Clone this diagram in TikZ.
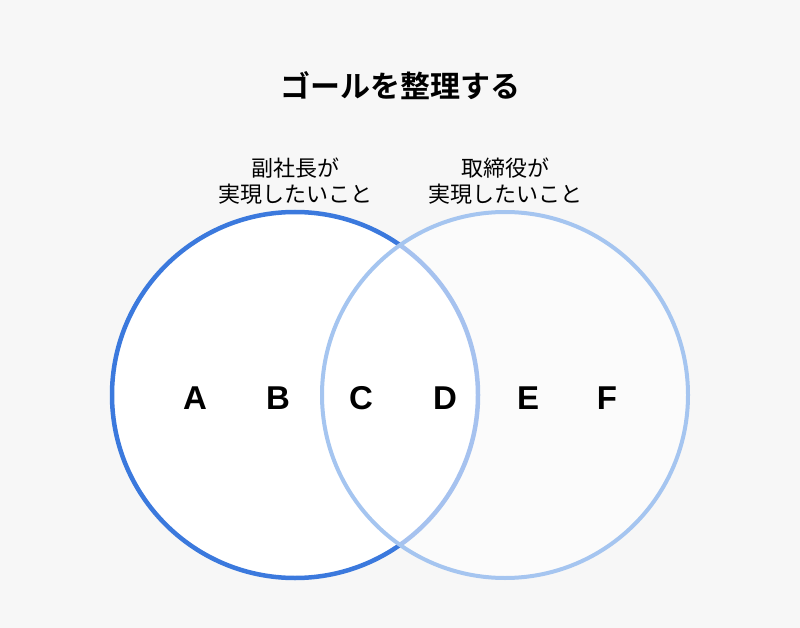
\documentclass[tikz,border=0pt]{standalone}
\usepackage{fontspec}
\newfontfamily\cjk{Noto Sans CJK JP}
\newfontfamily\cjkb{Noto Sans CJK JP Bold}
\newfontfamily\lat{Liberation Sans}
\definecolor{bg}{HTML}{F7F7F7}
\definecolor{dblue}{HTML}{3B79DD}
\definecolor{lblue}{HTML}{A5C5F0}
\tikzset{
  letter/.style={font=\lat\bfseries\fontsize{33}{36}\selectfont, text=black},
  caption/.style={font=\cjk\fontsize{22}{26}\selectfont, align=center, text=black},
}
\begin{document}
\begin{tikzpicture}[x=1pt,y=-1pt]
\fill[bg] (0,0) rectangle (800,628);
\useasboundingbox (0,0) rectangle (800,628);
\node[font=\cjkb\fontsize{30}{34}\selectfont] (title) at (400,86) {ゴールを整理する};
\node[caption] (capL) at (295,181) {副社長が\\実現したいこと};
\node[caption] (capR) at (505,181) {取締役が\\実現したいこと};
\node[circle, minimum size=366pt, inner sep=0pt, draw=dblue, line width=4.5pt, fill=white] (L) at (295,395) {};
\node[circle, minimum size=366pt, inner sep=0pt, draw=lblue, line width=4pt, fill=white, fill opacity=0.55, draw opacity=1] (R) at (505,395) {};
\node[letter] (A) at (195,398) {A};
\node[letter] (B) at (278,398) {B};
\node[letter] (C) at (361,398) {C};
\node[letter] (D) at (445,398) {D};
\node[letter] (E) at (528,398) {E};
\node[letter] (F) at (607,398) {F};
\end{tikzpicture}
\end{document}
